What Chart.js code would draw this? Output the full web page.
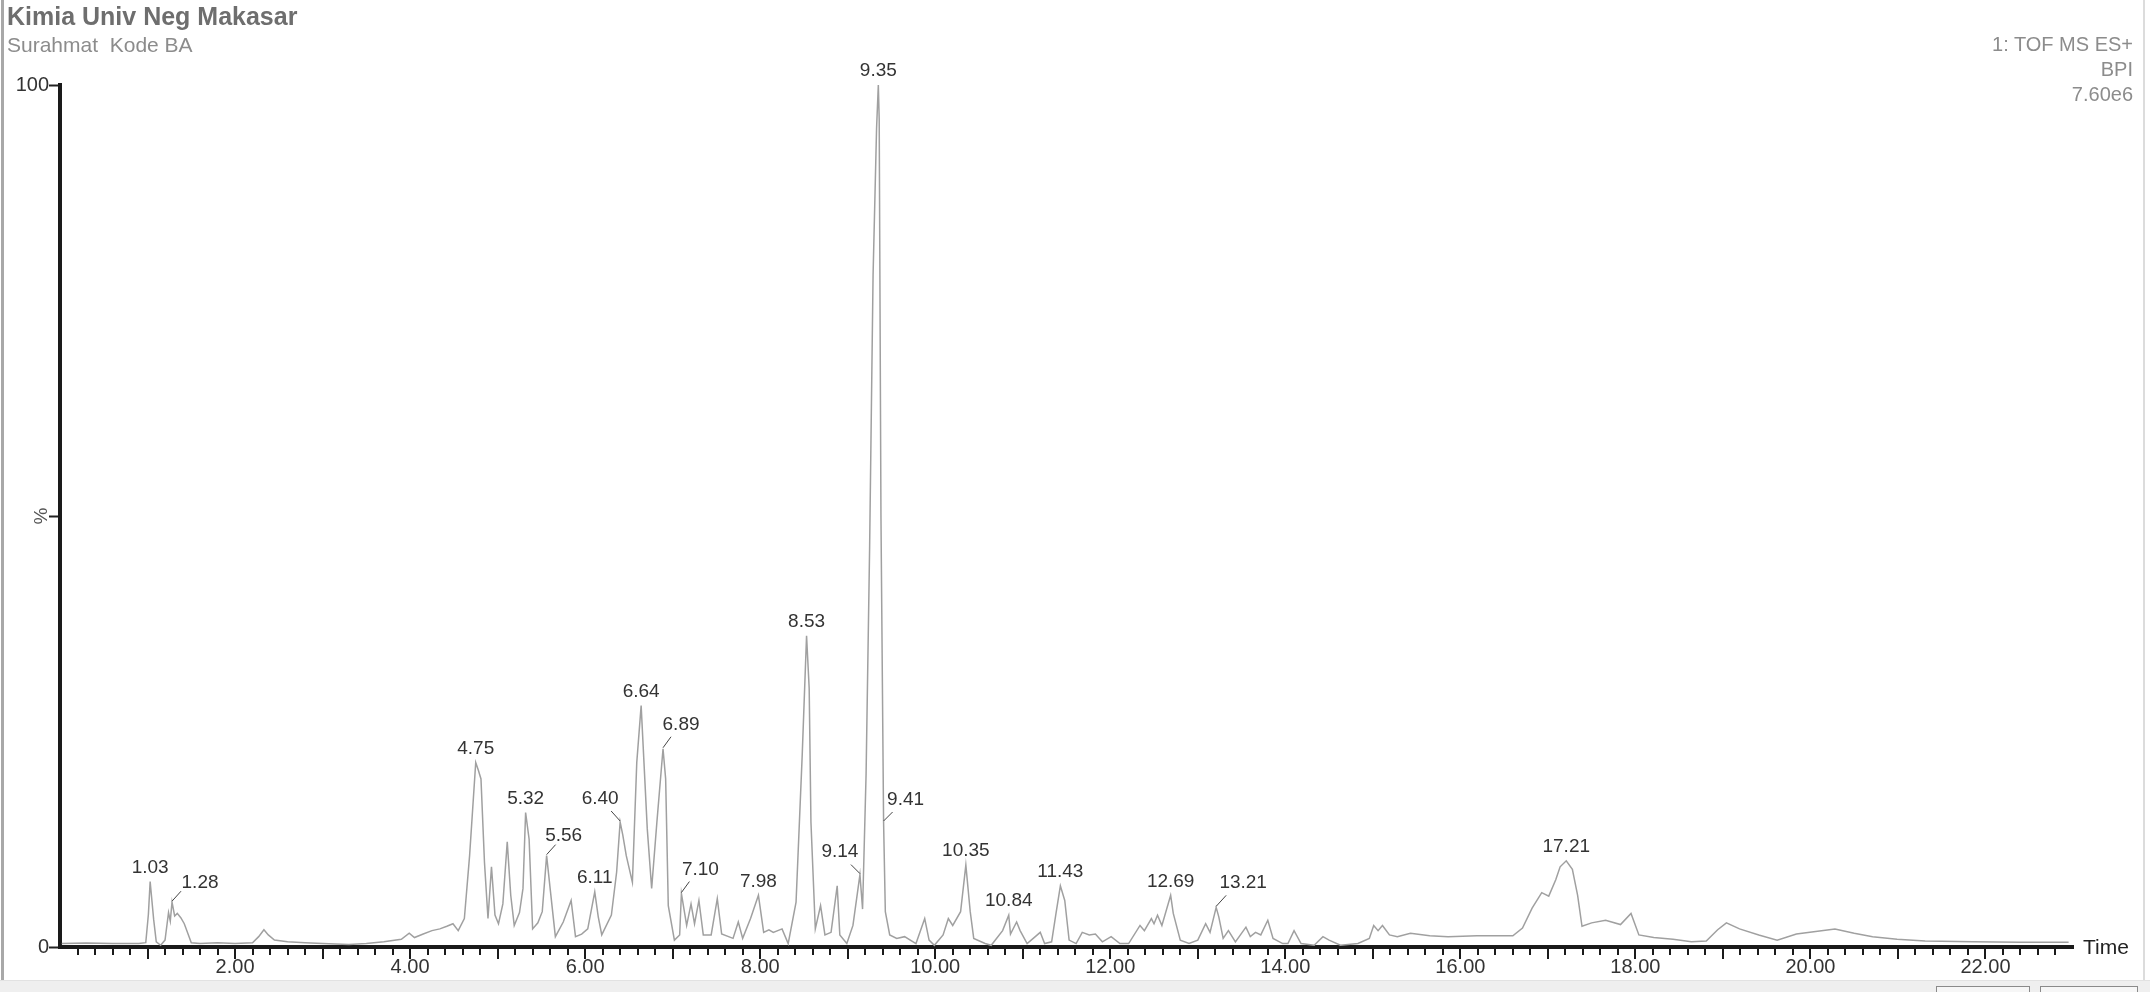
<!DOCTYPE html>
<html>
<head>
<meta charset="utf-8">
<script src="https://cdn.jsdelivr.net/npm/chart.js@4.4.1/dist/chart.umd.min.js"></script>
<style>
  html, body { margin: 0; padding: 0; background: #fff; }
  #wrap { position: relative; width: 2150px; height: 992px; overflow: hidden; font-family: 'Liberation Sans', Arial, sans-serif; }
  #chart { position: absolute; left: 0; top: 0; }
  .title { position: absolute; left: 7px; top: 4px; font-size: 25px; line-height: 25px; font-weight: bold; color: #6e6e6e; white-space: pre; }
  .subtitle { position: absolute; left: 7px; top: 34px; font-size: 21px; line-height: 21px; color: #8c8c8c; white-space: pre; }
  .info { position: absolute; right: 17px; top: 32px; font-size: 20px; line-height: 25px; color: #8c8c8c; text-align: right; }
  .leftbar { position: absolute; left: 1px; top: 0; width: 3px; height: 980px; background: #a8a8a8; }
  .rightbar { position: absolute; left: 2143px; top: 0; width: 2px; height: 980px; background: #dcdcdc; }
  .band { position: absolute; left: 0; top: 980px; width: 2150px; height: 12px; background: #efefef; border-top: 1px solid #e2e2e2; }
  .btn { position: absolute; top: 986px; height: 10px; border: 1px solid #8a8a8a; background: #f6f6f6; }
</style>
</head>
<body>
<div id="wrap">
  <canvas id="chart" width="2150" height="992"></canvas>
  <div class="leftbar"></div>
  <div class="rightbar"></div>
  <div class="band"></div>
  <div class="btn" style="left:1936px;width:92px"></div>
  <div class="btn" style="left:2040px;width:96px"></div>
  <div class="title">Kimia Univ Neg Makasar</div>
  <div class="subtitle">Surahmat  Kode BA</div>
  <div class="info">1: TOF MS ES+<br>BPI<br>7.60e6</div>
</div>
<script>
// retention time (min) and base peak intensity (%)
var times = [
  0.02, 0.30, 0.60, 0.90, 0.98, 1.01, 1.03, 1.07, 1.10, 1.15,
  1.20, 1.24, 1.26, 1.28, 1.31, 1.34, 1.38, 1.42, 1.46, 1.50,
  1.60, 1.80, 2.00, 2.20, 2.27, 2.33, 2.38, 2.45, 2.60, 2.80,
  3.00, 3.30, 3.50, 3.70, 3.90, 3.99, 4.05, 4.15, 4.25, 4.34,
  4.42, 4.49, 4.55, 4.62, 4.68, 4.75, 4.78, 4.81, 4.85, 4.89,
  4.93, 4.97, 5.01, 5.06, 5.11, 5.15, 5.19, 5.25, 5.29, 5.32,
  5.36, 5.40, 5.46, 5.51, 5.56, 5.60, 5.66, 5.75, 5.84, 5.89,
  5.96, 6.03, 6.11, 6.15, 6.19, 6.30, 6.36, 6.40, 6.43, 6.47,
  6.54, 6.59, 6.64, 6.71, 6.76, 6.82, 6.89, 6.92, 6.95, 7.02,
  7.08, 7.10, 7.16, 7.21, 7.25, 7.30, 7.35, 7.44, 7.51, 7.56,
  7.69, 7.75, 7.80, 7.89, 7.98, 8.04, 8.10, 8.15, 8.25, 8.32,
  8.41, 8.48, 8.53, 8.56, 8.58, 8.63, 8.69, 8.74, 8.81, 8.88,
  8.91, 8.99, 9.06, 9.14, 9.17, 9.21, 9.25, 9.29, 9.33, 9.35,
  9.36, 9.38, 9.41, 9.43, 9.48, 9.56, 9.65, 9.78, 9.88, 9.93,
  9.99, 10.09, 10.15, 10.20, 10.29, 10.35, 10.40, 10.44, 10.57, 10.64,
  10.77, 10.84, 10.86, 10.93, 10.97, 11.05, 11.12, 11.20, 11.25, 11.33,
  11.38, 11.43, 11.48, 11.53, 11.61, 11.68, 11.76, 11.83, 11.91, 12.01,
  12.11, 12.21, 12.34, 12.39, 12.47, 12.50, 12.54, 12.59, 12.69, 12.72,
  12.80, 12.90, 13.00, 13.09, 13.14, 13.21, 13.24, 13.29, 13.35, 13.43,
  13.55, 13.60, 13.66, 13.72, 13.80, 13.86, 13.97, 14.03, 14.10, 14.18,
  14.33, 14.43, 14.50, 14.63, 14.83, 14.96, 15.01, 15.06, 15.11, 15.19,
  15.28, 15.43, 15.65, 15.86, 16.19, 16.60, 16.71, 16.82, 16.93, 17.01,
  17.09, 17.14, 17.21, 17.28, 17.34, 17.39, 17.50, 17.66, 17.83, 17.95,
  18.04, 18.21, 18.43, 18.64, 18.81, 18.94, 19.04, 19.19, 19.41, 19.62,
  19.84, 20.06, 20.28, 20.50, 20.71, 20.99, 21.31, 21.86, 22.40, 22.95
];
var intensity = [
  0.4, 0.45, 0.4, 0.4, 0.5, 3.8, 7.6, 3.2, 0.6, 0.2,
  0.8, 4.0, 3.0, 5.2, 3.6, 3.9, 3.4, 2.7, 1.6, 0.5,
  0.4, 0.5, 0.4, 0.5, 1.2, 2.0, 1.4, 0.8, 0.6, 0.5,
  0.4, 0.3, 0.4, 0.6, 0.9, 1.6, 1.1, 1.5, 1.9, 2.1,
  2.4, 2.7, 1.9, 3.3, 10.6, 21.4, 20.5, 19.5, 9.8, 3.3,
  9.3, 3.7, 2.7, 5.0, 12.2, 6.0, 2.5, 4.0, 6.8, 15.6,
  12.5, 2.1, 2.8, 4.1, 10.6, 6.8, 1.2, 2.9, 5.4, 1.2,
  1.5, 2.1, 6.4, 3.5, 1.4, 3.7, 8.7, 14.5, 13.0, 10.6,
  7.5, 21.4, 28.0, 13.7, 6.8, 14.5, 23.0, 19.5, 4.8, 0.8,
  1.4, 6.2, 2.5, 5.0, 2.7, 5.4, 1.4, 1.4, 5.6, 1.5,
  1.0, 2.9, 1.0, 3.3, 6.0, 1.7, 2.0, 1.7, 2.1, 0.4,
  5.2, 22.2, 36.1, 30.0, 14.5, 2.1, 4.8, 1.4, 1.7, 7.1,
  1.4, 0.4, 2.5, 8.4, 4.4, 20.0, 46.0, 78.0, 95.0, 100,
  96, 50, 14.5, 4.1, 1.4, 1.0, 1.2, 0.4, 3.3, 0.8,
  0.2, 1.4, 3.3, 2.5, 4.1, 9.5, 4.1, 1.0, 0.4, 0.2,
  1.9, 3.7, 1.5, 2.9, 1.9, 0.4, 1.0, 1.7, 0.4, 0.6,
  3.9, 7.1, 5.4, 0.8, 0.4, 1.7, 1.4, 1.5, 0.6, 1.2,
  0.4, 0.4, 2.5, 1.9, 3.3, 2.7, 3.7, 2.5, 6.0, 3.9,
  0.8, 0.4, 0.8, 2.7, 1.7, 4.6, 3.5, 1.0, 1.9, 0.6,
  2.3, 1.2, 1.7, 1.4, 3.1, 1.0, 0.4, 0.4, 1.9, 0.4,
  0.2, 1.2, 0.8, 0.2, 0.4, 1.0, 2.5, 1.9, 2.5, 1.4,
  1.2, 1.6, 1.3, 1.2, 1.3, 1.3, 2.2, 4.5, 6.3, 5.9,
  7.8, 9.3, 10.0, 9.0, 6.0, 2.4, 2.8, 3.1, 2.6, 3.9,
  1.4, 1.1, 0.9, 0.6, 0.7, 2.0, 2.8, 2.1, 1.4, 0.8,
  1.5, 1.8, 2.1, 1.6, 1.2, 0.9, 0.7, 0.6, 0.55, 0.55
];

// labelled peaks
var peakTimes = [1.03, 1.28, 4.75, 5.32, 5.56, 6.11, 6.40, 6.64, 6.89, 7.10,
                 7.98, 8.53, 9.14, 9.35, 9.41, 10.35, 10.84, 11.43, 12.69, 13.21, 17.21];
var peakLabels = ['1.03', '1.28', '4.75', '5.32', '5.56', '6.11', '6.40', '6.64', '6.89', '7.10',
                  '7.98', '8.53', '9.14', '9.35', '9.41', '10.35', '10.84', '11.43', '12.69', '13.21', '17.21'];

var xTickStep = 2;
var yTickStep = 50;

var FONT = '"Liberation Sans", Arial, sans-serif';

// leader line end (lx, ly) and label centre (cx, cy), relative to the apex
var leaders = {
  '1.28': { lx: 9, ly: -11, cx: 28, cy: -19 },
  '5.56': { lx: 9, ly: -11, cx: 17, cy: -20 },
  '6.40': { lx: -9, ly: -11, cx: -20, cy: -23 },
  '6.89': { lx: 8, ly: -12, cx: 18, cy: -24 },
  '7.10': { lx: 8, ly: -12, cx: 19, cy: -24 },
  '9.14': { lx: -9, ly: -10, cx: -20, cy: -23 },
  '9.41': { lx: 9, ly: -10, cx: 22, cy: -22 },
  '13.21': { lx: 10, ly: -12, cx: 27, cy: -25 }
};

var chromDecor = {
  id: 'chromDecor',
  afterDraw: function (chart) {
    var ctx = chart.ctx;
    var xs = chart.scales.x, ys = chart.scales.y;
    var bottom = chart.chartArea.bottom;
    ctx.save();

    // minor (0.2) and major (1.0) tick marks under the time axis
    ctx.strokeStyle = '#1a1a1a';
    ctx.lineWidth = 2;
    for (var i = 1; i < 115; i++) {
      var px = Math.round(xs.getPixelForValue(i / 5));
      var len = (i % 5 === 0) ? 12 : 8;
      ctx.beginPath();
      ctx.moveTo(px, bottom);
      ctx.lineTo(px, bottom + len);
      ctx.stroke();
    }

    // axis names
    ctx.fillStyle = '#222';
    ctx.font = '21px ' + FONT;
    ctx.textAlign = 'left';
    ctx.textBaseline = 'middle';
    ctx.fillText('Time', chart.chartArea.right + 10, bottom + 1);

    ctx.save();
    ctx.translate(42, ys.getPixelForValue(50));
    ctx.rotate(-Math.PI / 2);
    ctx.textAlign = 'center';
    ctx.fillStyle = '#555';
    ctx.font = '19px ' + FONT;
    ctx.fillText('%', 0, 0);
    ctx.restore();

    // peak labels
    ctx.font = '19px ' + FONT;
    ctx.fillStyle = '#333';
    ctx.strokeStyle = '#444';
    ctx.lineWidth = 1;
    ctx.textAlign = 'center';
    ctx.textBaseline = 'middle';
    peakTimes.forEach(function (t, k) {
      var idx = times.indexOf(t);
      var ax = xs.getPixelForValue(t);
      var ay = ys.getPixelForValue(intensity[idx]);
      var lab = peakLabels[k];
      var o = leaders[lab];
      if (o) {
        ctx.beginPath();
        ctx.moveTo(ax, ay - 1);
        ctx.lineTo(ax + o.lx, ay + o.ly);
        ctx.stroke();
        ctx.fillText(lab, ax + o.cx, ay + o.cy);
      } else {
        ctx.fillText(lab, ax, ay - 14);
      }
    });
    ctx.restore();
  }
};

var points = times.map(function (t, i) { return { x: t, y: intensity[i] }; });

new Chart(document.getElementById('chart'), {
  type: 'line',
  data: {
    datasets: [{
      data: points,
      borderColor: '#a0a0a0',
      borderWidth: 1.5,
      pointRadius: 0,
      tension: 0,
      fill: false
    }]
  },
  options: {
    responsive: false,
    animation: false,
    layout: { padding: { top: 85, right: 77, bottom: 0, left: 0 } },
    plugins: { legend: { display: false }, tooltip: { enabled: false } },
    scales: {
      x: {
        type: 'linear',
        min: 0,
        max: 23,
        afterFit: function (s) { s.height = 45; },
        border: { display: true, color: '#1a1a1a', width: 4 },
        grid: { display: false, drawTicks: false },
        ticks: {
          stepSize: xTickStep,
          autoSkip: false,
          maxRotation: 0,
          padding: 8,
          color: '#333',
          font: { family: FONT, size: 20 },
          callback: function (v) { return (v > 0 && v % 2 === 0) ? v.toFixed(2) : ''; }
        }
      },
      y: {
        min: 0,
        max: 100,
        afterFit: function (s) { s.width = 60; },
        border: { display: true, color: '#1a1a1a', width: 4 },
        grid: { display: true, drawOnChartArea: false, drawTicks: true, tickLength: 11, tickColor: '#222', tickWidth: 2 },
        ticks: {
          stepSize: yTickStep,
          padding: 0,
          color: '#333',
          font: { family: FONT, size: 20 },
          callback: function (v) { return v === 50 ? '' : String(v); }
        }
      }
    }
  },
  plugins: [chromDecor]
});
</script>
</body>
</html>
